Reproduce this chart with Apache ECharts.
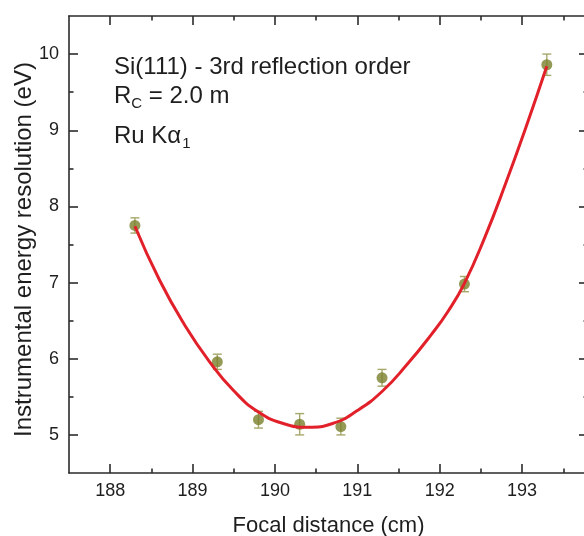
<!DOCTYPE html>
<html><head><meta charset="utf-8">
<script src="https://cdn.jsdelivr.net/npm/echarts@6/dist/echarts.min.js"></script>
<style>html,body{margin:0;padding:0;background:#fff}#c{width:584px;height:536px}</style>
</head><body><div id="c"></div>
<script>
// ---- data ----
const xMajorTicks = [188, 189, 190, 191, 192, 193];
const xMinorTicks = [188.5, 189.5, 190.5, 191.5, 192.5, 193.5];
const yMajorTicks = [5, 6, 7, 8, 9, 10];
const yMinorTicks = [5.5, 6.5, 7.5, 8.5, 9.5];
const focalDistance = [188.3, 189.3, 189.8, 190.3, 190.8, 191.3, 192.3, 193.3];
const resolution = [7.75, 5.96, 5.20, 5.14, 5.11, 5.75, 6.98, 9.86];
const resolutionErr = [0.10, 0.10, 0.11, 0.14, 0.11, 0.11, 0.10, 0.14];
const fitX = [188.3, 188.6, 188.9, 189.2, 189.5, 189.8, 190.1, 190.4, 190.7, 191.0, 191.3, 191.6, 191.9, 192.1, 192.3, 192.55, 192.8, 193.05, 193.3];
const fitY = [7.74, 7.03, 6.45, 5.97, 5.58, 5.30, 5.15, 5.10, 5.15, 5.32, 5.57, 5.92, 6.32, 6.62, 6.99, 7.60, 8.30, 9.05, 9.84];

// ---- styles ----
const FONT = '"Liberation Sans", Arial, sans-serif';
const AX = '#2b2b2b';
const TXT = '#1e1e1e';
const axLine = { show: true, onZero: false, lineStyle: { color: AX, width: 1.6 } };
const X0 = 187.5, X1 = 193.8, Y0 = 4.5, Y1 = 10.5;

function mkAx(type, pos, values, len, labels, extra) {
  return Object.assign({
    type: 'value', position: pos,
    min: type === 'x' ? X0 : Y0, max: type === 'x' ? X1 : Y1,
    axisLine: labels !== null ? axLine : { show: false },
    axisTick: { show: true, inside: true, length: len, customValues: values, lineStyle: { color: AX, width: 1.6 } },
    axisLabel: labels ? { show: true, customValues: values, fontSize: 18, color: TXT, fontFamily: FONT, margin: type === 'x' ? 9 : 10 } : { show: false },
    splitLine: { show: false }
  }, extra || {});
}

const chart = echarts.init(document.getElementById('c'), null, { renderer: 'canvas' });

// measure text for subscripts
const mctx = document.createElement('canvas').getContext('2d');
function tw(t, size) { mctx.font = size + 'px ' + FONT; return mctx.measureText(t).width; }
const AF = 24, SF = 15, TX = 114, SUB = 8;
const L1 = 67, L2 = 96, L3 = 136;
const graphics = [
  { type: 'text', x: TX, y: L1, style: { text: 'Si(111) - 3rd reflection order', font: AF + 'px ' + FONT, fill: TXT, verticalAlign: 'middle' } },
  { type: 'text', x: TX, y: L2, style: { text: 'R', font: AF + 'px ' + FONT, fill: TXT, verticalAlign: 'middle' } },
  { type: 'text', x: TX + tw('R', AF), y: L2 + SUB, style: { text: 'C', font: SF + 'px ' + FONT, fill: TXT, verticalAlign: 'middle' } },
  { type: 'text', x: TX + tw('R', AF) + tw('C', SF), y: L2, style: { text: ' = 2.0 m', font: AF + 'px ' + FONT, fill: TXT, verticalAlign: 'middle' } },
  { type: 'text', x: TX, y: L3, style: { text: 'Ru Kα', font: AF + 'px ' + FONT, fill: TXT, verticalAlign: 'middle' } },
  { type: 'text', x: TX + tw('Ru Kα', AF) + 1, y: L3 + SUB, style: { text: '1', font: SF + 'px ' + FONT, fill: TXT, verticalAlign: 'middle' } }
];

chart.setOption({
  animation: false,
  backgroundColor: '#ffffff',
  grid: { left: 69, top: 16, width: 519, height: 457, containLabel: false, outerBoundsMode: 'none' },
  xAxis: [
    mkAx('x', 'bottom', xMajorTicks, 9, true, { name: 'Focal distance (cm)', nameLocation: 'middle', nameGap: 42, nameMoveOverlap: false,
      nameTextStyle: { fontSize: 22, color: TXT, fontFamily: FONT } }),
    mkAx('x', 'bottom', xMinorTicks, 4.5, null),
    mkAx('x', 'top', xMajorTicks, 9, false),
    mkAx('x', 'top', xMinorTicks, 4.5, null)
  ],
  yAxis: [
    mkAx('y', 'left', yMajorTicks, 9, true, { name: 'Instrumental energy resolution (eV)', nameLocation: 'middle', nameGap: 33, nameMoveOverlap: false,
      nameTextStyle: { fontSize: 24, color: TXT, fontFamily: FONT, padding: [0, 10, 0, 0] } }),
    mkAx('y', 'left', yMinorTicks, 4.5, null),
    mkAx('y', 'right', yMajorTicks, 9, false),
    mkAx('y', 'right', yMinorTicks, 4.5, null)
  ],
  graphic: graphics,
  series: [
    {
      type: 'custom', xAxisIndex: 0, yAxisIndex: 0, z: 2,
      data: focalDistance.map((x, i) => [x, resolution[i], resolutionErr[i]]),
      renderItem: function (params, api) {
        const x = api.value(0), y = api.value(1), e = api.value(2);
        const t = api.coord([x, y + e]);
        const b = api.coord([x, y - e]);
        const w = 4.5;
        const st = { stroke: '#a6a86a', lineWidth: 1.4 };
        return { type: 'group', children: [
          { type: 'line', shape: { x1: t[0], y1: t[1], x2: b[0], y2: b[1] }, style: st },
          { type: 'line', shape: { x1: t[0] - w, y1: t[1], x2: t[0] + w, y2: t[1] }, style: st },
          { type: 'line', shape: { x1: b[0] - w, y1: b[1], x2: b[0] + w, y2: b[1] }, style: st }
        ] };
      }
    },
    {
      type: 'scatter', xAxisIndex: 0, yAxisIndex: 0, z: 3,
      symbol: 'circle', symbolSize: 11,
      itemStyle: { color: '#7b7f2c' },
      data: focalDistance.map((x, i) => [x, resolution[i]])
    },
    {
      type: 'line', xAxisIndex: 0, yAxisIndex: 0, z: 4,
      smooth: true, showSymbol: false, symbol: 'none',
      lineStyle: { color: '#e2202a', width: 3 },
      data: fitX.map((x, i) => [x, fitY[i]])
    }
  ]
});
</script>
</body></html>
